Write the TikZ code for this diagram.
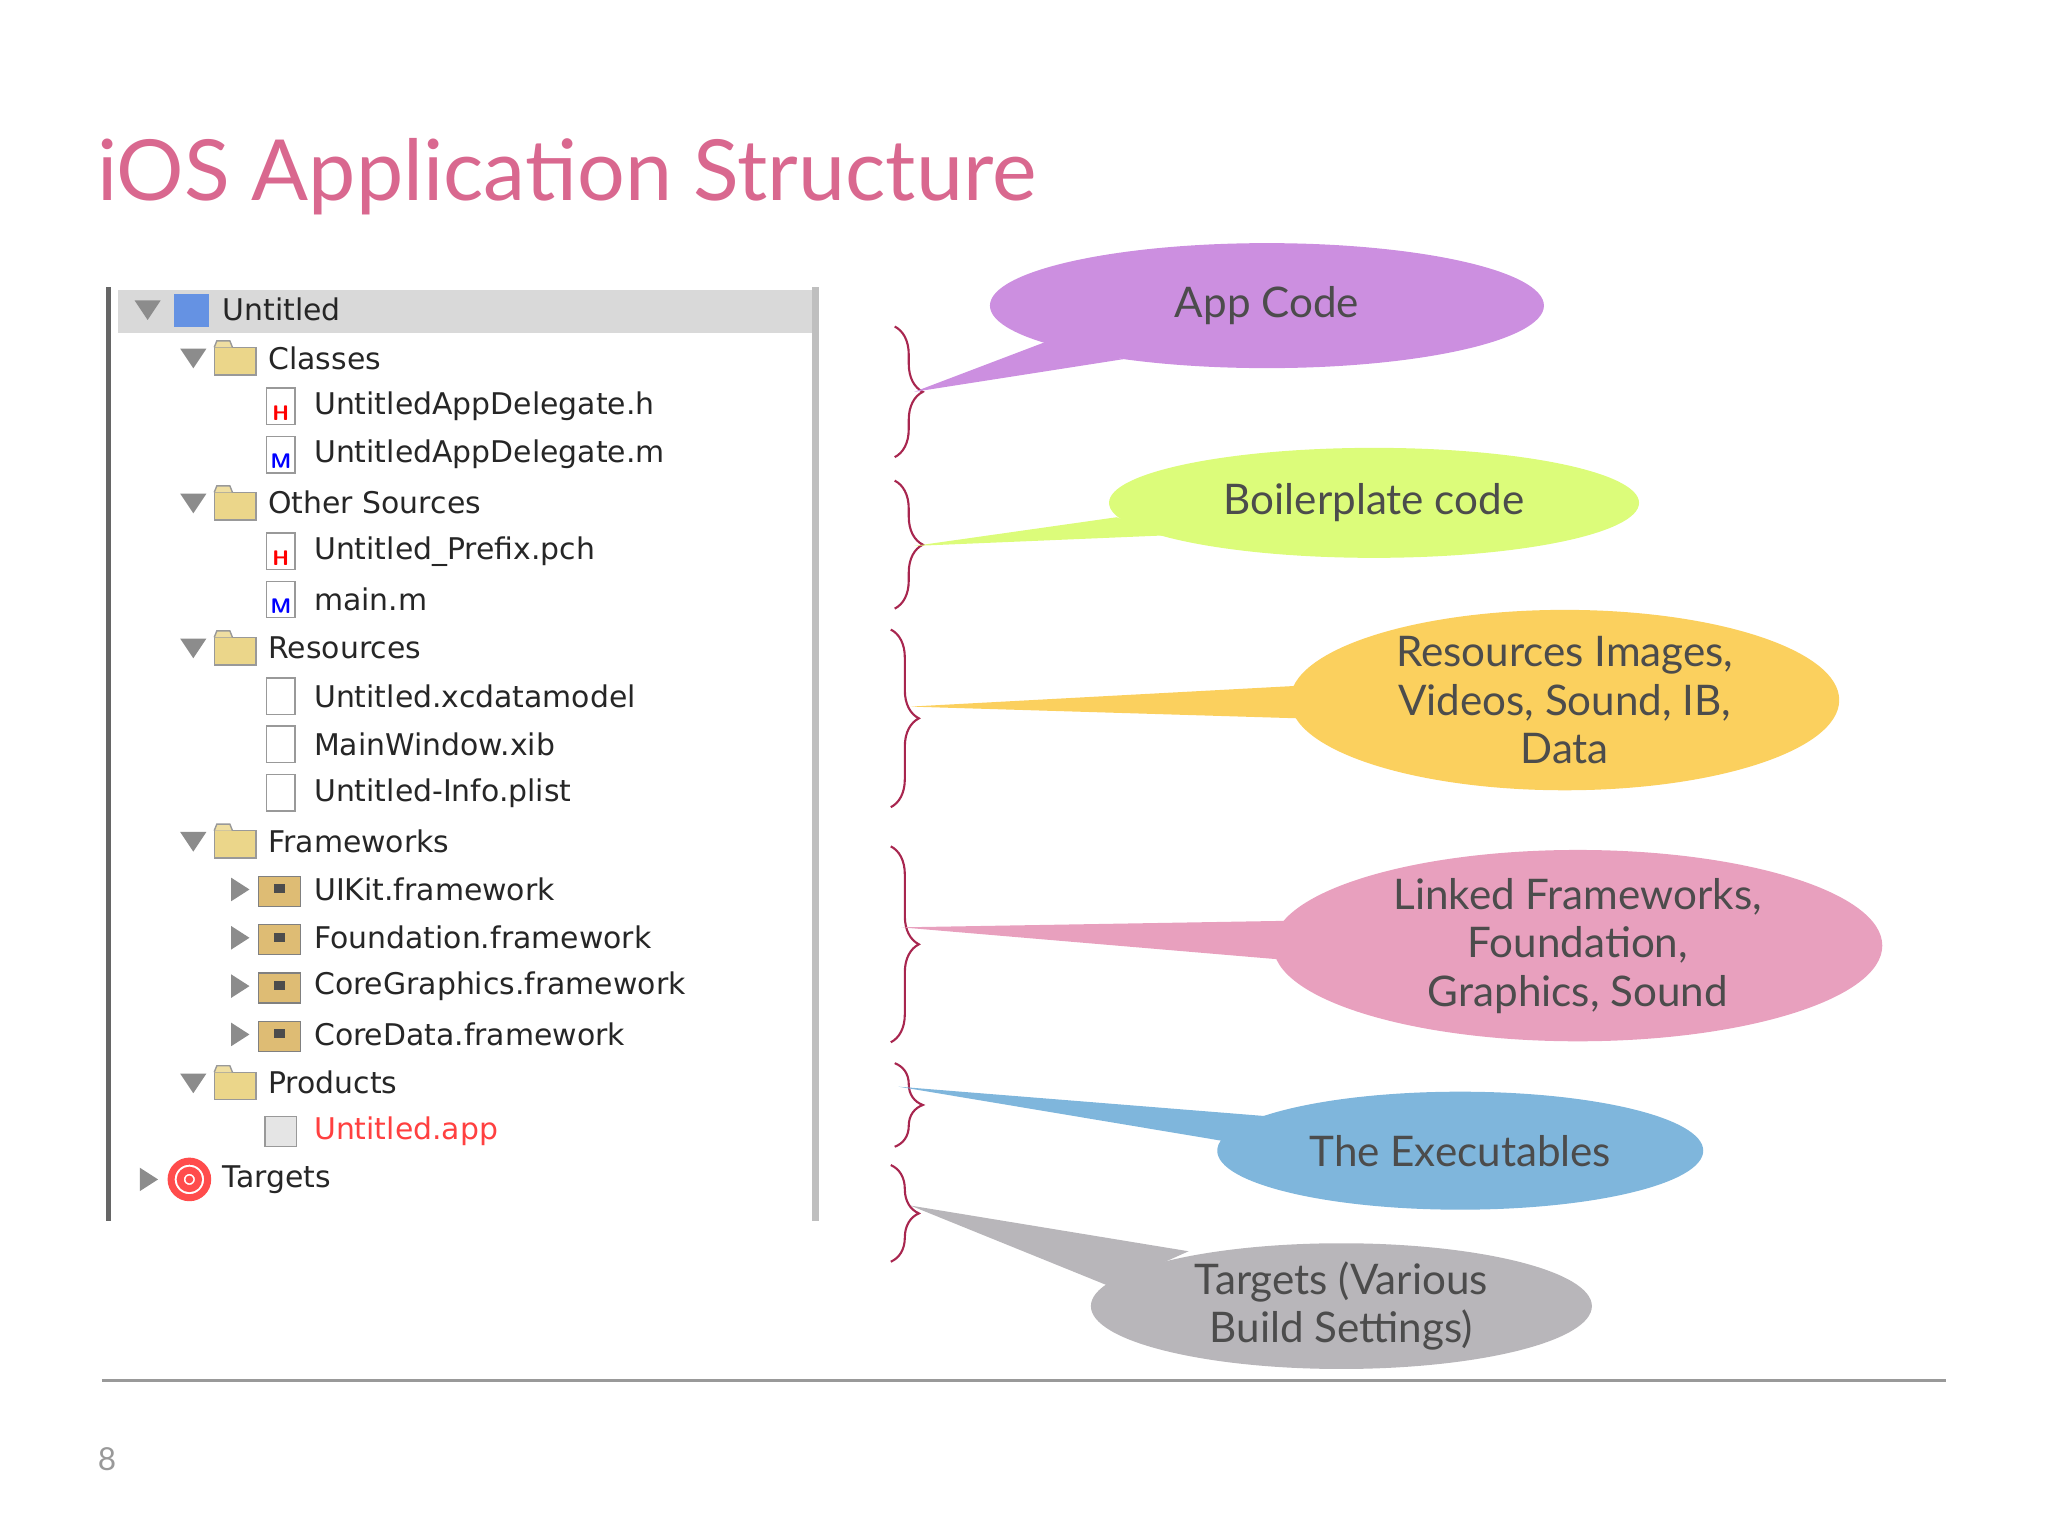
\documentclass[tikz,border=0pt]{standalone}
\usepackage{fontspec}
\setmainfont{Lato}
\newfontfamily\treefont{DejaVu Sans}
\usetikzlibrary{shapes.geometric, decorations.pathreplacing, positioning, calc}
\definecolor{titlepink}{HTML}{D9688F}
\definecolor{bracered}{HTML}{A8264F}
\definecolor{cpurple}{HTML}{CC8FE0}
\definecolor{clime}{HTML}{DCFC7A}
\definecolor{cyellow}{HTML}{FBD05E}
\definecolor{cpink}{HTML}{E8A0BE}
\definecolor{cblue}{HTML}{7FB6DC}
\definecolor{cgray}{HTML}{B8B6BA}
\definecolor{folderyel}{HTML}{EBD68A}
\tikzset{
  callout/.style={ellipse, inner sep=0pt, text centered, font=\fontsize{12}{13.8}\selectfont, text=black!70, align=center},
  tail/.style={fill=#1, draw=none},
  brace/.style={draw=bracered, semithick, decorate, decoration={brace, amplitude=8pt}},
  item/.style={anchor=west, font=\treefont\fontsize{8.5}{10}\selectfont, text=black!85, inner sep=0pt},
  opentri/.style={fill=black!45, draw=none},
}
% tree icons
\newcommand{\folderic}[1]{\fill[folderyel, draw=black!40] ($(#1)+(-16,-8)$) rectangle ($(#1)+(16,13)$);
  \fill[folderyel!80!white, draw=black!40] ($(#1)+(-16,-8)$) -- ($(#1)+(-14,-13)$) -- ($(#1)+(-4,-13)$) -- ($(#1)+(-2,-8)$);}
\newcommand{\fileic}[3]{\draw[black!40, fill=white] ($(#1)+(-11,-14)$) rectangle ($(#1)+(11,14)$);
  \node[font=\sffamily\bfseries\fontsize{6}{6}\selectfont, text=#2, inner sep=0pt] at ($(#1)+(0,5)$) {#3};}
\newcommand{\fwic}[1]{\fill[folderyel!70!brown, draw=black!50] ($(#1)+(-16,-10)$) rectangle ($(#1)+(16,13)$);
  \fill[black!70] ($(#1)+(-4,-4)$) rectangle ($(#1)+(4,3)$);}
\newcommand{\downtri}[1]{\fill[opentri] ($(#1)+(-10,-7)$) -- ($(#1)+(10,-7)$) -- ($(#1)+(0,8)$) -- cycle;}
\newcommand{\righttri}[1]{\fill[opentri] ($(#1)+(-6,-9)$) -- ($(#1)+(-6,9)$) -- ($(#1)+(8,0)$) -- cycle;}

\begin{document}
\begin{tikzpicture}[x=0.01306cm, y=-0.01306cm]
\useasboundingbox (0,0) rectangle (1568,1176);

% Title
\node (title) [anchor=west, text=titlepink, font=\fontsize{24}{28}\selectfont, inner sep=0pt] at (74,135) {iOS Application Structure};

% Tree panel
\fill[white] (82,220) rectangle (625,935);
\fill[black!15] (90,222) rectangle (625,255);
\draw[black!25, line width=2pt] (624,220) -- (624,935);
\draw[black!60, line width=1.5pt] (83,220) -- (83,935);

\downtri{113,237} \fill[cblue!80!blue] (133,225) rectangle (160,250);
\node (untitled) [item] at (170,237) {Untitled};
\foreach \y/\t in {274/Classes, 385/Other Sources, 496/Resources, 644/Frameworks, 829/Products} {
  \downtri{148,\y} \folderic{180,\y}
  \node [item] at (205,\y) {\t};
}
\foreach \y/\t/\c/\l in {311/UntitledAppDelegate.h/red/H, 348/UntitledAppDelegate.m/blue/M, 422/Untitled\_Prefix.pch/red/H, 459/main.m/blue/M, 533/Untitled.xcdatamodel/black!40/, 570/MainWindow.xib/black!40/, 607/Untitled-Info.plist/black!40/} {
  \fileic{215,\y}{\c}{\l}
  \node [item] at (240,\y) {\t};
}
\foreach \y/\t in {681/UIKit.framework, 718/Foundation.framework, 755/CoreGraphics.framework, 792/CoreData.framework} {
  \righttri{183,\y} \fwic{214,\y}
  \node [item] at (240,\y) {\t};
}
\draw[black!40, fill=black!10] (203,855) rectangle (227,878);
\node (app) [item, text=red!75] at (240,866) {Untitled.app};
\righttri{113,903}
\draw[red!70, fill=white, line width=2pt] (145,903) circle (14);
\draw[red!70, line width=2pt] (145,903) circle (7);
\fill[red!70] (145,903) circle (3);
\node (targets) [item] at (170,903) {Targets};

% Braces
\coordinate (b1t) at (685,250); \coordinate (b1b) at (685,350);
\coordinate (b2t) at (685,368); \coordinate (b2b) at (685,466);
\coordinate (b3t) at (682,482); \coordinate (b3b) at (682,618);
\coordinate (b4t) at (682,648); \coordinate (b4b) at (682,798);
\coordinate (b5t) at (685,814); \coordinate (b5b) at (685,878);
\coordinate (b6t) at (682,892); \coordinate (b6b) at (682,966);
\foreach \i in {1,...,6} \draw[brace] (b\i t) -- (b\i b);

% Callouts
\coordinate (t1) at (700,300);
\coordinate (t2) at (700,418);
\coordinate (t3) at (697,541);
\coordinate (t4) at (690,710);
\coordinate (t5) at (688,832);
\coordinate (t6) at (697,923);
\fill[tail=cpurple] (t1) -- (800,262) -- (860,275) -- cycle;
\fill[tail=clime] (t2) -- (855,396) -- (890,410) -- cycle;
\fill[tail=cyellow] (t3) -- (995,525) -- (995,550) -- cycle;
\fill[tail=cpink] (t4) -- (985,705) -- (985,735) -- cycle;
\fill[tail=cblue] (t5) -- (975,855) -- (945,875) -- cycle;
\fill[tail=cgray] (t6) -- (850,985) -- (910,958) -- cycle;
\node (appcode) [callout, fill=cpurple, minimum width=5.54cm, minimum height=1.25cm] at (970,234) {App Code};
\node (boiler) [callout, fill=clime, minimum width=5.30cm, minimum height=1.10cm] at (1052,385) {Boilerplate code};
\node (res) [callout, fill=cyellow, minimum width=5.49cm, minimum height=1.67cm] at (1198,536) {Resources Images,\\Videos, Sound, IB,\\Data};
\node (linked) [callout, fill=cpink, minimum width=6.09cm, minimum height=1.62cm] at (1208,724) {Linked Frameworks,\\Foundation,\\Graphics, Sound};
\node (exec) [callout, fill=cblue, minimum width=4.86cm, minimum height=1.18cm] at (1118,881) {The Executables};
\node (tgt) [callout, fill=cgray, minimum width=5.01cm, minimum height=1.23cm] at (1027,1000) {Targets (Various\\Build Settings)};

% Footer
\draw[black!40, line width=1pt] (78,1057) -- (1490,1057);
\node (pagenum) [text=black!40, font=\fontsize{9}{10}\selectfont] at (82,1117) {8};
\end{tikzpicture}
\end{document}
